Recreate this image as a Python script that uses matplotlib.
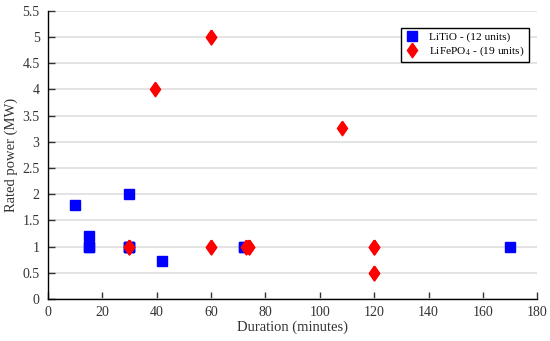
import matplotlib
matplotlib.use('Agg')
import matplotlib.pyplot as plt

# LiTiO units (duration in minutes, rated power in MW) - some overlap
litio_dur = [10, 15, 15, 30, 30, 30, 42, 72, 72, 170, 15, 30]
litio_mw = [1.8, 1.2, 1.0, 2.0, 1.0, 1.0, 0.72, 1.0, 1.0, 1.0, 1.0, 1.0]

# LiFePO4 units - some overlap
lfp_dur = [30, 30, 39.5, 60, 60, 60, 73, 74, 74, 108, 120, 120, 120, 120, 60, 73, 30, 120, 74]
lfp_mw = [1.0, 1.0, 4.0, 5.0, 1.0, 1.0, 1.0, 1.0, 1.0, 3.27, 1.0, 0.5, 1.0, 0.5, 5.0, 1.0, 1.0, 1.0, 1.0]

xticks = [0, 20, 40, 60, 80, 100, 120, 140, 160, 180]
yticks = [0, 0.5, 1, 1.5, 2, 2.5, 3, 3.5, 4, 4.5, 5, 5.5]

plt.rcParams['font.family'] = ['Liberation Serif', 'DejaVu Serif']
plt.rcParams['mathtext.fontset'] = 'stix'

# slightly wider diamond than matplotlib's 'd'
diamond = [(0, 1), (0.7, 0), (0, -1), (-0.7, 0), (0, 1)]

fig = plt.figure(figsize=(5.5, 3.41), dpi=100)
ax = fig.add_axes([0.087, 0.123, 0.89, 0.845])

ax.plot(litio_dur, litio_mw, 's', color='#0000ff', markersize=6.5,
        linestyle='none', label='LiTiO - (12 units)', zorder=3)
ax.plot(lfp_dur, lfp_mw, marker=diamond, color='#ff0000', markersize=10.5,
        linestyle='none', label='LiFePO$_4$ - (19 units)', zorder=4)

ax.set_xlim(0, 180)
ax.set_ylim(0, 5.5)
ax.set_xticks(xticks)
ax.set_yticks(yticks)
ax.set_yticklabels([('%g' % v) for v in yticks])
ax.yaxis.grid(True, color='#e0e0e0', linewidth=1.3)
ax.set_axisbelow(True)

for s in ['top', 'right']:
    ax.spines[s].set_visible(False)
for s in ['left', 'bottom']:
    ax.spines[s].set_linewidth(1.0)

ax.tick_params(direction='in', length=5, width=1, labelsize=10, colors='#333333',
               labelcolor='#333333')
ax.tick_params(axis='x', pad=5)
ax.tick_params(axis='y', pad=6)

ax.set_xlabel('Duration (minutes)', fontsize=10.5, color='#333333', labelpad=1)
ax.set_ylabel('Rated power (MW)', fontsize=10.5, color='#333333', labelpad=3)

leg = ax.legend(loc='upper right', bbox_to_anchor=(0.982, 0.941), fontsize=8.2,
                frameon=True, fancybox=False, edgecolor='black', framealpha=1,
                borderpad=0.35, labelspacing=0.2, handlelength=1.2,
                handletextpad=0.9, borderaxespad=0)
leg.get_frame().set_linewidth(1.0)

plt.savefig('out.png', dpi=100)
